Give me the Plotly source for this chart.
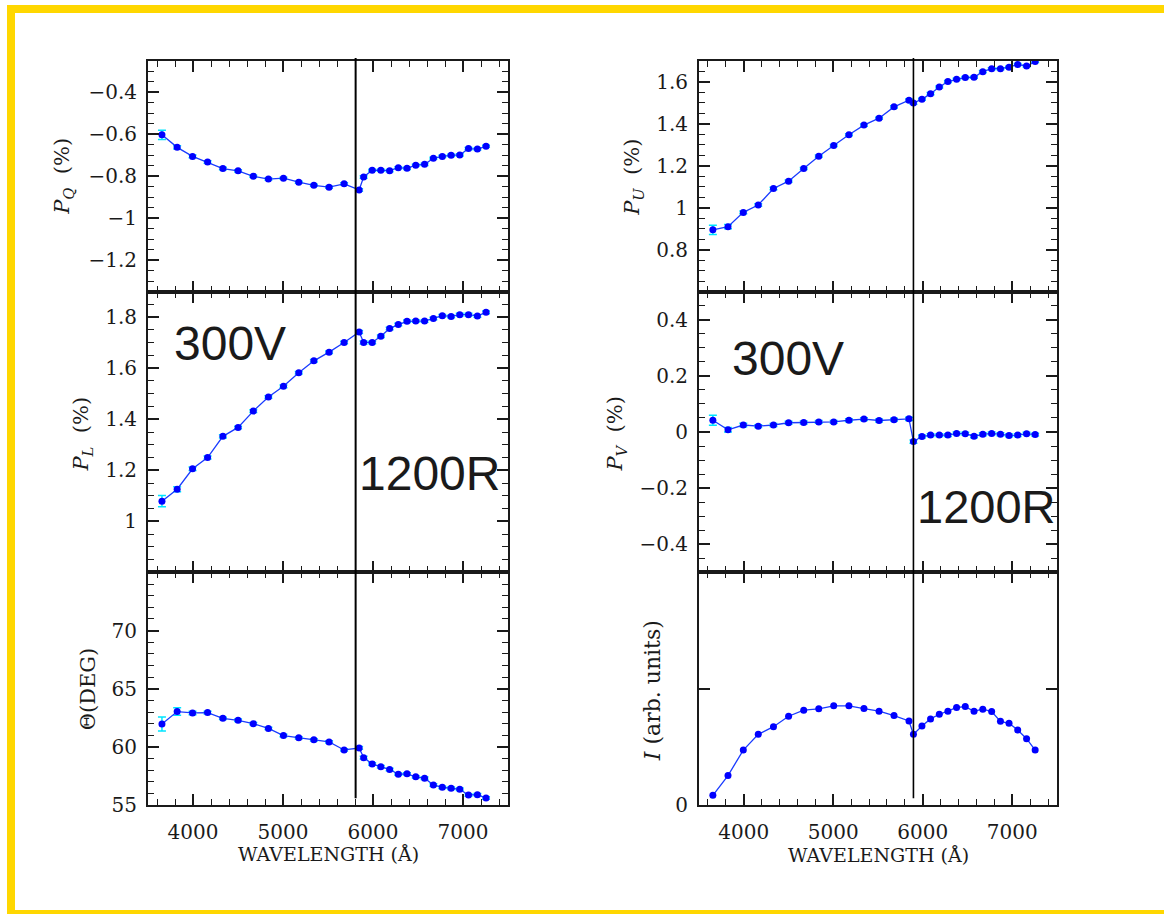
import plotly.graph_objects as go

# ---------------- data ----------------
wavelength = [3655, 3824, 3995, 4162, 4332, 4501, 4670, 4838, 5005, 5175, 5343, 5512, 5679, 5846,
              5896, 5991, 6087, 6185, 6281, 6378, 6475, 6573, 6671, 6770, 6868, 6964, 7061, 7160, 7256]

p_q = [-0.602, -0.662, -0.705, -0.732, -0.763, -0.774, -0.800, -0.813, -0.809, -0.828, -0.843, -0.852, -0.836, -0.865,
       -0.803, -0.771, -0.771, -0.773, -0.759, -0.762, -0.747, -0.743, -0.714, -0.705, -0.700, -0.698, -0.668, -0.670, -0.657]
p_q_err = [0.022, 0.008, 0.007, 0.006, 0.006, 0.005, 0.005, 0.005, 0.005, 0.005, 0.005, 0.005, 0.005, 0.006,
           0.006, 0.005, 0.005, 0.005, 0.005, 0.005, 0.005, 0.005, 0.005, 0.005, 0.005, 0.005, 0.005, 0.005, 0.005]

p_u = [0.895, 0.910, 0.978, 1.013, 1.092, 1.127, 1.187, 1.246, 1.297, 1.348, 1.394, 1.427, 1.481, 1.513,
       1.500, 1.517, 1.544, 1.576, 1.602, 1.613, 1.621, 1.622, 1.649, 1.663, 1.663, 1.670, 1.683, 1.676, 1.697]
p_u_err = [0.022, 0.010, 0.007, 0.006, 0.006, 0.005, 0.005, 0.005, 0.005, 0.005, 0.005, 0.005, 0.005, 0.006,
           0.006, 0.005, 0.005, 0.005, 0.005, 0.005, 0.005, 0.005, 0.005, 0.005, 0.005, 0.005, 0.005, 0.005, 0.005]

p_l = [1.079, 1.126, 1.206, 1.250, 1.333, 1.368, 1.432, 1.487, 1.529, 1.582, 1.629, 1.663, 1.701, 1.742,
       1.701, 1.701, 1.725, 1.756, 1.771, 1.784, 1.785, 1.785, 1.795, 1.806, 1.803, 1.810, 1.810, 1.805, 1.819]
p_l_err = [0.022, 0.010, 0.007, 0.006, 0.006, 0.005, 0.005, 0.005, 0.005, 0.005, 0.005, 0.005, 0.005, 0.006,
           0.006, 0.005, 0.005, 0.005, 0.005, 0.005, 0.005, 0.005, 0.005, 0.005, 0.005, 0.005, 0.005, 0.005, 0.005]

p_v = [0.042, 0.008, 0.025, 0.021, 0.025, 0.033, 0.034, 0.036, 0.036, 0.042, 0.046, 0.041, 0.044, 0.047,
       -0.034, -0.016, -0.011, -0.011, -0.011, -0.005, -0.006, -0.015, -0.008, -0.005, -0.008, -0.012, -0.011, -0.006, -0.009]
p_v_err = [0.018, 0.008, 0.006, 0.005, 0.005, 0.005, 0.005, 0.005, 0.005, 0.005, 0.005, 0.005, 0.005, 0.006,
           0.006, 0.005, 0.005, 0.005, 0.005, 0.005, 0.005, 0.005, 0.005, 0.005, 0.005, 0.005, 0.005, 0.005, 0.005]

theta = [61.97, 63.04, 62.92, 62.95, 62.46, 62.29, 62.00, 61.59, 60.98, 60.78, 60.61, 60.43, 59.74, 59.91,
         59.08, 58.53, 58.30, 58.06, 57.66, 57.69, 57.43, 57.31, 56.73, 56.53, 56.45, 56.36, 55.87, 55.90, 55.61]
theta_err = [0.60, 0.32, 0.15, 0.12, 0.10, 0.10, 0.10, 0.10, 0.10, 0.10, 0.10, 0.10, 0.10, 0.12,
             0.12, 0.10, 0.10, 0.10, 0.10, 0.10, 0.10, 0.10, 0.10, 0.10, 0.10, 0.10, 0.10, 0.10, 0.10]

intensity = [0.084, 0.254, 0.473, 0.608, 0.674, 0.764, 0.816, 0.827, 0.853, 0.853, 0.830, 0.807, 0.769, 0.723,
             0.608, 0.680, 0.741, 0.781, 0.807, 0.839, 0.847, 0.807, 0.824, 0.804, 0.720, 0.703, 0.646, 0.571, 0.473]

grating_split_left = 5807
grating_split_right = 5896

# ---------------- layout geometry (pixels) ----------------
W, H = 1164, 925
KY = 925 / 914.0   # vertical compensation


def px(x):
    return x / W


def py(y):
    return 1 - (y * KY) / H


col_x = [(148, 508), (699, 1057)]
row_y = [(61, 292), (292, 573), (573, 806)]

BLUE = "#0000ff"
LINEBLUE = "#1a3cff"
CYAN = "#00e5ff"
AXC = "#1a1a1a"
SERIF = "DejaVu Serif"

fig = go.Figure()

panels = [
    # (row, col, y, err, yrange, tickvals, minor dtick)
    (0, 0, p_q, p_q_err, [-1.35, -0.25], [-1.2, -1.0, -0.8, -0.6, -0.4], 0.05),
    (0, 1, p_u, p_u_err, [0.6, 1.7], [0.8, 1.0, 1.2, 1.4, 1.6], 0.05),
    (1, 0, p_l, p_l_err, [0.8, 1.9], [1.0, 1.2, 1.4, 1.6, 1.8], 0.05),
    (1, 1, p_v, p_v_err, [-0.5, 0.5], [-0.4, -0.2, 0, 0.2, 0.4], 0.05),
    (2, 0, theta, theta_err, [55, 75], [55, 60, 65, 70], 1),
    (2, 1, intensity, None, [0, 2], [0], None),
]

layout_axes = {}
for i, (r, c, yv, err, yr, tv, mdt) in enumerate(panels):
    n = i + 1
    xa = "x" if n == 1 else f"x{n}"
    ya = "y" if n == 1 else f"y{n}"
    trace = go.Scatter(
        x=wavelength, y=yv, xaxis=xa, yaxis=ya, mode="lines+markers",
        line=dict(color=LINEBLUE, width=1.3),
        marker=dict(color=BLUE, size=7),
        showlegend=False,
    )
    if err is not None:
        trace.error_y = dict(type="data", array=err, color=CYAN, thickness=1.5, width=4)
    fig.add_trace(trace)

    x0, x1 = col_x[c]
    y0, y1 = row_y[r]
    xkey = "xaxis" if n == 1 else f"xaxis{n}"
    ykey = "yaxis" if n == 1 else f"yaxis{n}"
    layout_axes[xkey] = dict(
        domain=[px(x0), px(x1)], anchor=ya, range=[3500, 7500],
        tickmode="linear", tick0=4000, dtick=1000,
        ticks="inside", ticklen=11, tickwidth=1.5, tickcolor=AXC,
        minor=dict(ticks="inside", dtick=200, tick0=4000, ticklen=6, tickwidth=1.3, tickcolor=AXC),
        showline=True, linecolor=AXC, linewidth=2, mirror="allticks",
        showgrid=False, zeroline=False,
        showticklabels=(r == 2),
        tickfont=dict(family=SERIF, size=20, color=AXC), ticklabelstandoff=8,
    )
    ydict = dict(
        domain=[py(y1), py(y0)], anchor=xa, range=yr,
        tickmode="array", tickvals=tv,
        ticks="inside", ticklen=11, tickwidth=1.5, tickcolor=AXC,
        showline=True, linecolor=AXC, linewidth=2, mirror="allticks",
        showgrid=False, zeroline=False,
        tickfont=dict(family=SERIF, size=20, color=AXC), ticklabelstandoff=5,
    )
    if mdt is not None:
        ydict["minor"] = dict(ticks="inside", dtick=mdt, tick0=0, ticklen=6, tickwidth=1.3, tickcolor=AXC)
    else:
        ydict["minor"] = dict(ticks="inside", tickmode="array", tickvals=[1], ticklen=11, tickwidth=1.5, tickcolor=AXC)
    layout_axes[ykey] = ydict

fig.update_layout(**layout_axes)

# vertical grating-split lines
shapes = [
    dict(type="line", xref="x5", yref="paper", x0=grating_split_left, x1=grating_split_left,
         y0=py(799), y1=py(58), line=dict(color="#000000", width=2)),
    dict(type="line", xref="x6", yref="paper", x0=grating_split_right, x1=grating_split_right,
         y0=py(799), y1=py(58), line=dict(color="#000000", width=1.6)),
    # yellow frame
    dict(type="rect", xref="paper", yref="paper", x0=px(11), x1=px(1172), y0=py(915), y1=py(9),
         line=dict(color="#ffd700", width=8), fillcolor="rgba(0,0,0,0)", layer="above"),
]

annotations = []


def ann(text, x, y, size, family=SERIF, angle=0):
    annotations.append(dict(text=text, x=px(x), y=py(y), xref="paper", yref="paper",
                            showarrow=False, xanchor="center", yanchor="middle",
                            textangle=angle, font=dict(family=family, size=size, color="#1a1a1a")))


# y titles
ann("<i>P</i><sub><i>Q</i></sub>  (%)", 63, 177, 21, angle=-90)
ann("<i>P</i><sub><i>L</i></sub>  (%)", 82, 435, 21, angle=-90)
ann("Θ(DEG)", 88, 690, 21, angle=-90)
ann("<i>P</i><sub><i>U</i></sub>  (%)", 633, 178, 21, angle=-90)
ann("<i>P</i><sub><i>V</i></sub>  (%)", 616, 435, 21, angle=-90)
ann("<i>I</i> (arb. units)", 652, 692, 22, angle=-90)
# x titles
ann("WAVELENGTH (Å)", 328, 855, 19)
ann("WAVELENGTH (Å)", 878, 856, 19)
# grating labels
SANS = "Liberation Sans, Arial, sans-serif"
ann("300V", 230, 344, 48, family=SANS)
ann("1200R", 429, 474, 48, family=SANS)
ann("300V", 788, 359, 48, family=SANS)
ann("1200R", 986, 507, 47, family=SANS)

fig.update_layout(
    width=W, height=H, autosize=False, margin=dict(l=0, r=0, t=0, b=0, pad=0),
    font=dict(family=SERIF, size=20, color=AXC),
    paper_bgcolor="white", plot_bgcolor="white",
    shapes=shapes, annotations=annotations, showlegend=False,
)

fig.write_html("out.html", config={"responsive": False})
